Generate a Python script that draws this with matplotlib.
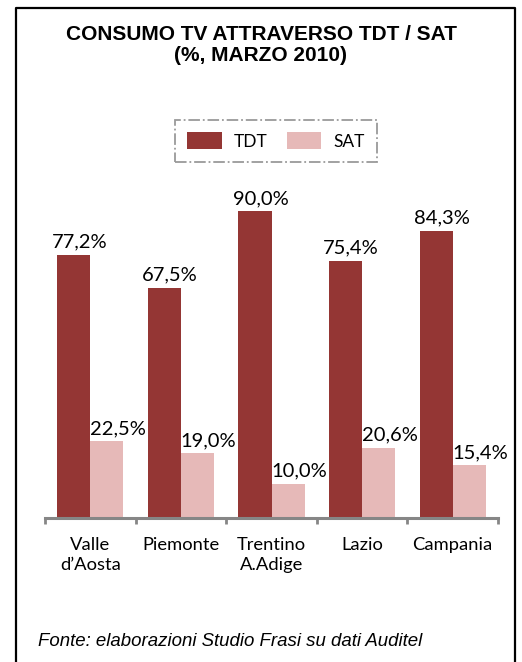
import numpy as np
import matplotlib
matplotlib.use("Agg")
import matplotlib.pyplot as plt

# data
regions = ["Valle\nd\u2019Aosta", "Piemonte", "Trentino\nA.Adige", "Lazio", "Campania"]
tdt = [77.2, 67.5, 90.0, 75.4, 84.3]
sat = [22.5, 19.0, 10.0, 20.6, 15.4]

c_tdt = "#943634"
c_sat = "#E6B9B8"
W, H = 522, 662

fig = plt.figure(figsize=(W / 100, H / 100), dpi=100)

# outer frame (bottom edge is cut off in the original)
fig.add_artist(plt.Line2D([16 / W, 16 / W, 515 / W, 515 / W],
                          [0, 1 - 8 / H, 1 - 8 / H, 0],
                          transform=fig.transFigure, color="black", lw=1.6))

fig.text(0.5, 1 - 45 / H, "CONSUMO TV ATTRAVERSO TDT / SAT\n(%, MARZO 2010)",
         ha="center", va="center", fontsize=15, fontweight="bold",
         family="Liberation Sans", linespacing=1.15)

ax = fig.add_axes([45 / W, (H - 518) / H, (498 - 45) / W, (518 - 177) / H])
x = np.arange(len(regions))
bw = 0.365
b1 = ax.bar(x - bw / 2, tdt, bw, color=c_tdt, label="TDT")
b2 = ax.bar(x + bw / 2, sat, bw, color=c_sat, label="SAT")

for bars, vals, dx in [(b1, tdt, 4), (b2, sat, 8)]:
    for r, v in zip(bars, vals):
        ax.annotate(f"{v:.1f}%".replace(".", ","),
                    (r.get_x() + r.get_width() / 2, v),
                    xytext=(dx, 3), textcoords="offset points",
                    ha="center", va="bottom", fontsize=14.5, family="Lato")

ax.set_xlim(-0.5, len(regions) - 0.5)
ax.set_ylim(0, 100)
for s in ["top", "right", "left"]:
    ax.spines[s].set_visible(False)
ax.spines["bottom"].set_color("#868686")
ax.spines["bottom"].set_linewidth(2.2)
ax.set_yticks([])
ax.set_xticks(np.arange(len(regions) + 1) - 0.5)
ax.set_xticklabels([])
ax.tick_params(axis="x", length=4, width=2, color="#868686")
ax.set_xticks(x, minor=True)
ax.set_xticklabels(regions, minor=True, fontsize=13.2, family="Lato", linespacing=1.3)
ax.tick_params(axis="x", which="minor", length=0, pad=14)

leg = fig.legend(handles=[b1, b2], loc="center",
                 bbox_to_anchor=(276 / W, 1 - 141 / H), ncol=2,
                 prop={"family": "Lato", "size": 12.5}, frameon=True,
                 handlelength=2.0, handleheight=1.1, columnspacing=1.1,
                 handletextpad=0.7, borderpad=0.7, fancybox=False)
frame = leg.get_frame()
frame.set_edgecolor("#808080")
frame.set_linestyle("-.")
frame.set_linewidth(1.3)

fig.text(38 / W, 1 - 642 / H, "Fonte: elaborazioni Studio Frasi su dati Auditel",
         ha="left", va="center", fontsize=13.4, style="italic",
         family="Liberation Sans")

fig.savefig("out.png", dpi=100)
